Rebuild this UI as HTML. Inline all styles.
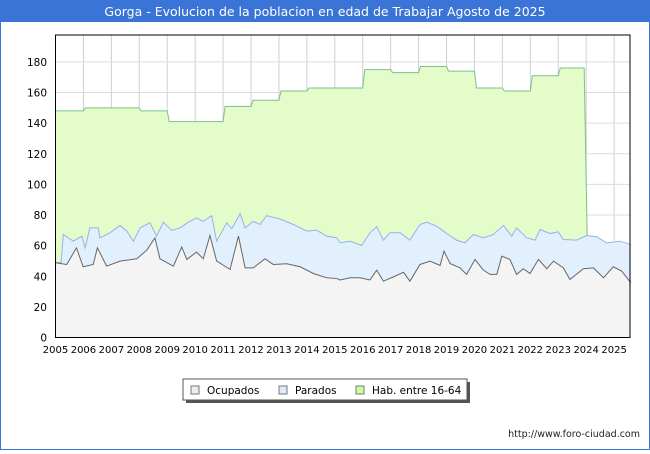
<!DOCTYPE html>
<html><head><meta charset="utf-8"><style>
body{margin:0;width:650px;height:450px;overflow:hidden;background:#fff;font-family:"DejaVu Sans","Liberation Sans",sans-serif;}
</style></head><body>
<svg width="650" height="450" xmlns="http://www.w3.org/2000/svg" id="svg">
<rect x="0.5" y="0.5" width="649" height="449" fill="#fff" stroke="#3a74d6"/>
<rect x="0" y="0" width="650" height="22" fill="#3a74d6"/>
<text x="325" y="16" text-anchor="middle" fill="#fff" font-size="12.5">Gorga - Evolucion de la poblacion en edad de Trabajar Agosto de 2025</text>
<g id="plot"></g>
<g>
<rect x="186" y="382" width="284" height="21" fill="#555"/>
<rect x="183" y="379" width="284" height="21" fill="#fff" stroke="#555"/>
<rect x="191" y="386" width="8" height="8" fill="#eee" stroke="#777"/>
<text x="207" y="394" font-size="10.5">Ocupados</text>
<rect x="279" y="386" width="8" height="8" fill="#dcecff" stroke="#777"/>
<text x="295" y="394" font-size="10.5">Parados</text>
<rect x="356" y="386" width="8" height="8" fill="#ccff99" stroke="#777"/>
<text x="372" y="394" font-size="10.5">Hab. entre 16-64</text>
</g>
<text x="640" y="437" text-anchor="end" font-size="9.5" fill="#222">http://www.foro-ciudad.com</text>
</svg>
<script>
const habYears=[2005,2006,2007,2008,2009,2010,2011,2012,2013,2014,2015,2016,2017,2018,2019,2020,2021,2022,2023];
const habValues=[148,150,150,148,141,141,151,155,161,163,163,175,173,177,174,163,161,171,176];
const topDates=[2005.0,2005.2,2005.28,2005.64,2005.94,2006.06,2006.23,2006.53,2006.59,2006.95,2007.31,2007.55,2007.79,2008.03,2008.38,2008.62,2008.86,2009.16,2009.46,2009.76,2010.05,2010.29,2010.59,2010.77,2011.13,2011.31,2011.61,2011.79,2012.08,2012.32,2012.56,2013.04,2013.52,2014.0,2014.35,2014.71,2015.07,2015.19,2015.55,2015.96,2016.26,2016.5,2016.74,2016.98,2017.34,2017.69,2018.05,2018.29,2018.65,2019.01,2019.36,2019.66,2019.96,2020.32,2020.68,2021.04,2021.33,2021.51,2021.87,2022.17,2022.35,2022.71,2023.0,2023.18,2023.66,2024.02,2024.38,2024.73,2025.21,2025.6];
const topValues=[48.8,49,67.3,62.9,66.2,58.6,71.6,71.6,65.1,68.4,73.2,69.5,62.9,71.6,74.9,66.2,75.3,69.9,71.6,75.3,78.1,75.9,79.6,62.9,74.9,71,80.9,71.6,75.9,73.8,79.6,77.4,73.8,69.5,70.1,66.2,65.1,61.8,62.9,60.1,68.4,72.3,63.6,68.4,68.4,63.6,73.8,75.3,72.7,67.9,63.6,61.8,67.3,65.1,67.3,73.2,66.2,71.6,65.1,63.6,70.5,67.9,69.0,64.0,63.6,66.6,65.8,61.8,62.9,60.7];
const ocupDates=[2005.0,2005.4,2005.75,2005.99,2006.35,2006.5,2006.83,2007.31,2007.91,2008.27,2008.56,2008.74,2009.22,2009.52,2009.7,2010.05,2010.29,2010.53,2010.77,2011.25,2011.55,2011.79,2012.08,2012.5,2012.8,2013.28,2013.76,2014.23,2014.71,2015.07,2015.19,2015.55,2015.9,2016.26,2016.5,2016.74,2017.1,2017.46,2017.69,2018.05,2018.41,2018.77,2018.91,2019.13,2019.48,2019.72,2020.02,2020.32,2020.56,2020.8,2020.98,2021.27,2021.51,2021.75,2021.99,2022.29,2022.59,2022.83,2023.18,2023.42,2023.9,2024.26,2024.62,2024.97,2025.27,2025.6];
const ocupValues=[48.8,47.7,58.6,46.2,47.7,58.6,46.6,49.9,51.4,57.1,65.1,51.4,46.6,59.2,51.0,55.8,51.4,66.6,49.9,44.5,66.2,45.5,45.5,51.4,47.7,48.2,46.2,41.8,39.0,38.5,37.6,39.0,39.0,37.6,44.0,36.8,39.6,42.6,36.8,47.7,49.9,47.1,56.4,48.3,45.5,41.2,51.0,44.0,41.2,41.2,53.1,51.0,41.2,44.9,41.8,51.0,44.9,49.9,45.5,37.9,44.9,45.5,39.0,46.2,43.4,35.7];
const yTicks=[0,20,40,60,80,100,120,140,160,180];
const xTicks=[2005,2006,2007,2008,2009,2010,2011,2012,2013,2014,2015,2016,2017,2018,2019,2020,2021,2022,2023,2024,2025];

const L=55.5,R=630,T=35,B=337.5;
const X=v=>L+(v-2005)*27.93;
const Y=v=>B-v*1.531;
const NS='http://www.w3.org/2000/svg';
const g=document.getElementById('plot');
function mk(tag,attrs,parent){const e=document.createElementNS(NS,tag);for(const k in attrs)e.setAttribute(k,attrs[k]);(parent||g).appendChild(e);return e;}

xTicks.forEach(t=>{const e=mk('line',{x1:X(t),x2:X(t),y1:T,y2:B,stroke:'#d0d0d0'});

});
yTicks.forEach(t=>{const e=mk('line',{x1:L,x2:R,y1:Y(t),y2:Y(t),stroke:'#dcdcdc'});

});

let hp=[];
habYears.forEach((yr,i)=>{const x0=X(yr)+(i?2:0),x1=X(yr+1)-(i==habYears.length-1?2:0);hp.push([x0,Y(habValues[i])],[x1,Y(habValues[i])]);});
const lastX=X(habYears[habYears.length-1]+1)+1;
const habLine=hp.map(p=>p.join(',')).join(' ');
const ha=mk('polygon',{points:habLine+' '+lastX+','+Y(topValues[topDates.findIndex(d=>d>=2024)]) +' '+lastX+','+B+' '+L+','+B,fill:'#e4fcca'});


const hl=mk('polyline',{points:habLine+' '+lastX+','+Y(66),fill:'none',stroke:'#7cc08a','stroke-width':1});



const tp=topDates.map((d,i)=>X(d)+','+Y(topValues[i])).join(' ');
const ta=mk('polygon',{points:tp+' '+X(topDates[topDates.length-1])+','+B+' '+L+','+B,fill:'#e2f0fe'});


const tl=mk('polyline',{points:tp,fill:'none',stroke:'#93b3ea','stroke-width':1});



const op=ocupDates.map((d,i)=>X(d)+','+Y(ocupValues[i])).join(' ');
const oa=mk('polygon',{points:op+' '+X(ocupDates[ocupDates.length-1])+','+B+' '+L+','+B,fill:'#f4f4f4'});


const ol=mk('polyline',{points:op,fill:'none',stroke:'#666','stroke-width':1});



const pb=mk('rect',{x:L,y:T,width:R-L,height:B-T,fill:'none',stroke:'#000','stroke-width':1});



yTicks.forEach(t=>{const e=mk('text',{x:47,y:Y(t)+4,'text-anchor':'end','font-size':10.5,fill:'#000'});e.textContent=t;

});
xTicks.forEach(t=>{const e=mk('text',{x:X(t),y:353,'text-anchor':'middle','font-size':10,fill:'#000'});e.textContent=t;

});
</script>
</body></html>
